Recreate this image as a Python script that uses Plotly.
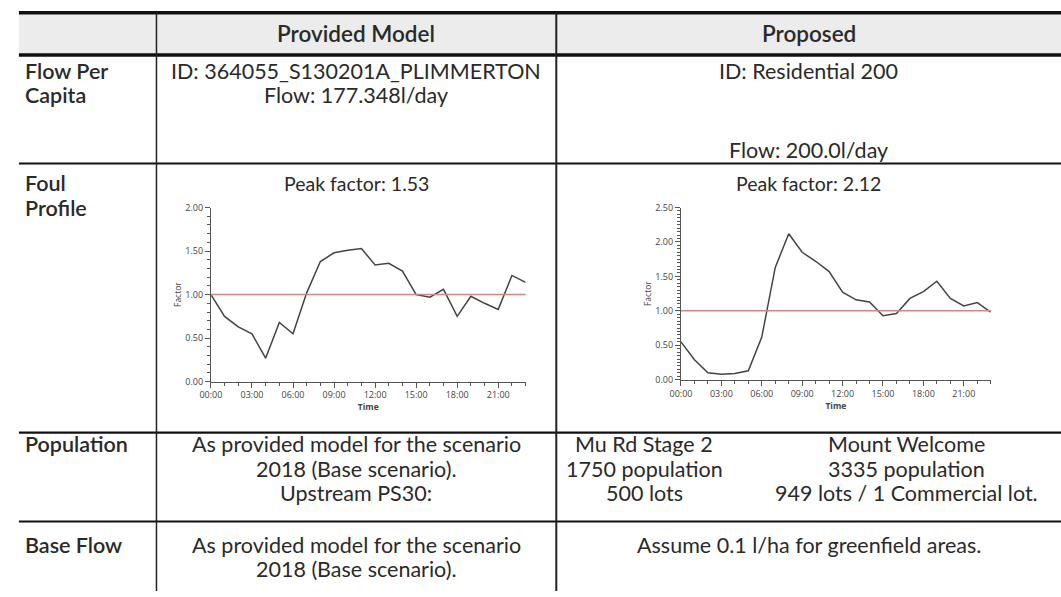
import plotly.graph_objects as go

# ---------------- data ----------------
hours = list(range(24))
tick_hours = [0, 3, 6, 9, 12, 15, 18, 21]
tick_labels = ["00:00", "03:00", "06:00", "09:00", "12:00", "15:00", "18:00", "21:00"]

provided_factor = [1.00, 0.75, 0.63, 0.55, 0.27, 0.68, 0.55, 1.02, 1.38, 1.48, 1.51, 1.53,
                   1.34, 1.36, 1.27, 1.00, 0.97, 1.06, 0.75, 0.98, 0.90, 0.83, 1.22, 1.14]
proposed_factor = [0.55, 0.29, 0.10, 0.08, 0.09, 0.13, 0.62, 1.63, 2.12, 1.85, 1.72, 1.57,
                   1.27, 1.16, 1.13, 0.93, 0.96, 1.18, 1.28, 1.43, 1.18, 1.07, 1.12, 0.98]
base_factor = 1.0

header_cols = ["Provided Model", "Proposed"]
row_labels = [["Flow Per", "Capita"], ["Foul", "Profile"], ["Population"], ["Base Flow"]]
flow_provided = ["ID: 364055_S130201A_PLIMMERTON", "Flow: 177.348l/day"]
flow_proposed = ["ID: Residential 200", "Flow: 200.0l/day"]
peak_labels = ["Peak factor: 1.53", "Peak factor: 2.12"]
pop_provided = ["As provided model for the scenario", "2018 (Base scenario).", "Upstream PS30:"]
pop_mu = ["Mu Rd Stage 2", "1750 population", "500 lots"]
pop_mw = ["Mount Welcome", "3335 population", "949 lots / 1 Commercial lot."]
base_provided = ["As provided model for the scenario", "2018 (Base scenario)."]
base_proposed = ["Assume 0.1 l/ha for greenfield areas."]

# ---------------- layout helpers ----------------
W, H = 1061, 597
def px(x):
    return x / W
def py(y):
    return 1 - y / H

FONT = "Lato"
TXT = "#2a2a2a"
FS = 21.5
LS = 25

fig = go.Figure()

fig.add_trace(go.Scatter(x=hours, y=provided_factor, mode="lines",
                         line=dict(color="#444444", width=1.5), xaxis="x", yaxis="y",
                         showlegend=False, hoverinfo="skip"))
fig.add_trace(go.Scatter(x=hours, y=proposed_factor, mode="lines",
                         line=dict(color="#444444", width=1.5), xaxis="x2", yaxis="y2",
                         showlegend=False, hoverinfo="skip"))

TOP, HDR, FLW, FOUL, POP = 6, 49, 160, 435, 526

shapes = []
shapes.append(dict(type="rect", xref="paper", yref="paper", x0=px(8), x1=px(1061),
                   y0=py(HDR), y1=py(TOP), fillcolor="#ececec", line=dict(width=0), layer="below"))
def hline(y, w, x0=8, x1=1061):
    shapes.append(dict(type="line", xref="paper", yref="paper", x0=px(x0), x1=px(x1),
                       y0=py(y), y1=py(y), line=dict(color="#111111", width=w)))
def vline(x, w, y0=TOP, y1=597):
    shapes.append(dict(type="line", xref="paper", yref="paper", x0=px(x), x1=px(x),
                       y0=py(y0), y1=py(y1), line=dict(color="#222222", width=w)))
hline(TOP, 3.5)
hline(HDR, 3.5)
hline(FLW, 2)
hline(FOUL, 2.2)
hline(POP, 2)
vline(147, 1.5)
vline(551, 2)

for xr, yr in (("x", "y"), ("x2", "y2")):
    shapes.append(dict(type="line", xref=f"{xr} domain", yref=yr, x0=0, x1=1,
                       y0=base_factor, y1=base_factor, line=dict(color="#d98484", width=1.5)))

ann = []
def text(x, y, s, anchor="center", bold=False, size=FS):
    ann.append(dict(x=px(x), y=py(y), xref="paper", yref="paper", text=s, showarrow=False,
                    xanchor=anchor, yanchor="middle",
                    font=dict(family=FONT, size=size, color=TXT, weight=600 if bold else 400)))

text(349, 27, header_cols[0], bold=True, size=22.5)
text(806, 27, header_cols[1], bold=True, size=22.5)

label_rows = [65, 180, 447, 550]
for lines, y0 in zip(row_labels, label_rows):
    for i, s in enumerate(lines):
        text(12, y0 + i * LS, s, anchor="left", bold=True, size=21.5)

text(349, 65, flow_provided[0])
text(349, 65 + LS, flow_provided[1])
text(806, 65, flow_proposed[0])
text(806, 146, flow_proposed[1])

text(349, 180, peak_labels[0], size=19.5)
text(806, 180, peak_labels[1], size=19.5)

for i, s in enumerate(pop_provided):
    text(349, 447 + i * LS, s)
for i, s in enumerate(pop_mu):
    text(640, 447 + i * LS, s)
for i, s in enumerate(pop_mw):
    text(905, 447 + i * LS, s)

for i, s in enumerate(base_provided):
    text(349, 550 + i * LS, s)
text(806, 550, base_proposed[0])

tickfont = dict(family="Open Sans", size=9, color="#444444")
axtitle = dict(family="Open Sans", size=8.5, color="#444444")

def xaxis_cfg(domain, anchor):
    return dict(domain=domain, anchor=anchor, range=[0, 23], tickmode="array",
                tickvals=tick_hours, ticktext=tick_labels, ticks="outside", ticklen=5,
                tickcolor="#555555", showline=True, linecolor="#555555", linewidth=1,
                showgrid=False, zeroline=False, tickfont=tickfont,
                minor=dict(tickmode="linear", tick0=0, dtick=1, ticks="outside", ticklen=3,
                           tickcolor="#555555"),
                title=dict(text="<b>Time</b>", font=axtitle, standoff=0))

def yaxis_cfg(domain, anchor, rng, mdt):
    return dict(domain=domain, anchor=anchor, range=rng, dtick=0.5, tickformat=".2f",
                ticks="outside", ticklen=5, tickcolor="#555555", showline=True,
                linecolor="#555555", linewidth=1, showgrid=False, zeroline=False,
                tickfont=tickfont,
                minor=dict(dtick=mdt, ticks="outside", ticklen=3, tickcolor="#555555"),
                title=dict(text="Factor", font=axtitle, standoff=2))

fig.update_layout(
    width=W, height=H, margin=dict(l=0, r=0, t=0, b=0),
    paper_bgcolor="white", plot_bgcolor="white",
    xaxis=xaxis_cfg([px(202), px(520)], "y"),
    yaxis=yaxis_cfg([py(383), py(205)], "x", [0, 2.0], 0.1),
    xaxis2=xaxis_cfg([px(677), px(990)], "y2"),
    yaxis2=yaxis_cfg([py(381), py(205)], "x2", [0, 2.5], 0.05),
    shapes=shapes, annotations=ann, showlegend=False,
)

fig.write_html("out.html", config={"displayModeBar": False},
               post_script="document.body.style.margin='0';document.body.style.overflow='hidden';")
